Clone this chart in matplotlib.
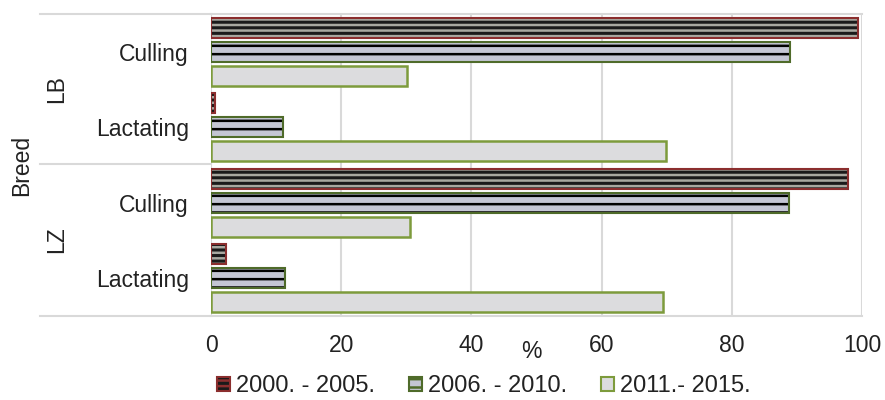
import numpy as np
import matplotlib.pyplot as plt
from matplotlib.patches import Patch
from matplotlib.lines import Line2D

# data
breeds = ['LB', 'LZ']
statuses = ['Culling', 'Lactating']
periods = ['2000. - 2005.', '2006. - 2010.', '2011.- 2015.']
v_2000_2005 = [99.4, 0.6, 97.8, 2.3]
v_2006_2010 = [88.9, 11.1, 88.8, 11.4]
v_2011_2015 = [30.1, 69.9, 30.6, 69.4]
x_ticks = [0, 20, 40, 60, 80, 100]

plt.rcParams['font.family'] = ['Liberation Sans', 'DejaVu Sans']
plt.rcParams['hatch.linewidth'] = 1.8
FS = 16.5
TXT = '#222222'

fig = plt.figure(figsize=(8.85, 4.0), dpi=100)
ax = fig.add_axes([211 / 885, 1 - 316 / 400, (862 - 211) / 885, (316 - 14) / 400])

series = [v_2000_2005, v_2006_2010, v_2011_2015]
faces = ['#1a1a1a', '#c4c6d4', '#dcdcde']
hatches = ['---', '--', None]
hatch_cols = ['#a8a8a0', '#000000', None]
edges = ['#8b2e2e', '#4f6b2a', '#7d9b3c']

ncat = len(v_2000_2005)
centers = np.arange(ncat)
bh = 0.265
step = 0.32
for i, vals in enumerate(series):
    y = centers + (i - 1) * step
    if hatches[i]:
        ax.barh(y, vals, height=bh, color=faces[i], hatch=hatches[i],
                edgecolor=hatch_cols[i], linewidth=0, zorder=3)
        ax.barh(y, vals, height=bh, fill=False, edgecolor=edges[i],
                linewidth=1.5, zorder=4)
    else:
        ax.barh(y, vals, height=bh, color=faces[i], edgecolor=edges[i],
                linewidth=1.8, zorder=3)

ax.set_ylim(ncat - 0.5, -0.5)
ax.set_xlim(0, 100)
ax.set_xticks(x_ticks)
ax.set_xticklabels([str(t) for t in x_ticks], fontsize=FS, color=TXT)
ax.tick_params(axis='x', length=0, pad=13)
ax.set_yticks(centers)
ax.set_yticklabels(statuses * len(breeds), fontsize=FS, color=TXT)
ax.tick_params(axis='y', length=0, pad=16)
ax.grid(axis='x', color='#d9d9d9', linewidth=1.5, zorder=0)
for s in ['left', 'right']:
    ax.spines[s].set_visible(False)
for s in ['top', 'bottom']:
    ax.spines[s].set_color('#d9d9d9')
    ax.spines[s].set_linewidth(1.5)

# group separators and labels on the left
for yy in [14, 164, 316]:
    fig.add_artist(Line2D([40 / 885, 211 / 885], [1 - yy / 400, 1 - yy / 400],
                          color='#d9d9d9', linewidth=1.5))
for b, yy in zip(breeds, [89, 240]):
    fig.text(57 / 885, 1 - yy / 400, b, rotation=90, fontsize=FS,
             ha='center', va='center', color=TXT)
fig.text(22 / 885, 1 - 165 / 400, 'Breed', rotation=90, fontsize=FS,
         ha='center', va='center', color=TXT)
fig.text(531 / 885, 1 - 352 / 400, '%', fontsize=FS, ha='center',
         va='center', color=TXT)

handles = []
for i in range(3):
    handles.append(Patch(facecolor=faces[i], edgecolor=edges[i],
                         hatch=hatches[i], linewidth=1.5))
leg = fig.legend(handles, periods, loc='center', ncol=3,
                 bbox_to_anchor=(484 / 885, 1 - 386 / 400), frameon=False,
                 fontsize=17, handlelength=0.55, handleheight=0.55,
                 handletextpad=0.25, columnspacing=1.45, borderpad=0.2)
for t in leg.get_texts():
    t.set_color(TXT)

fig.savefig('out.png', dpi=100)
